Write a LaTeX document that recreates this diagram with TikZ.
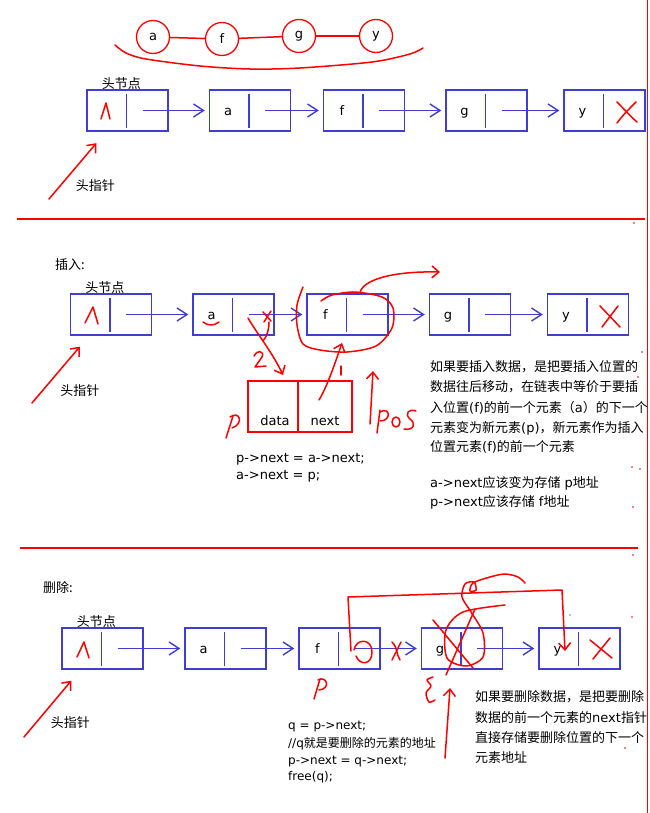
\documentclass[tikz,border=0pt]{standalone}
\usepackage{fontspec}
\setmainfont{DejaVu Sans}
\newfontfamily\cjk{Noto Sans CJK SC}
\usetikzlibrary{arrows.meta,positioning}
\definecolor{nodeblue}{RGB}{62,62,210}
\definecolor{inkred}{RGB}{255,0,0}

\begin{document}
\begin{tikzpicture}[
x=1pt,y=-1pt,
listnode/.style={draw=nodeblue,line width=1.4pt,minimum width=81pt,minimum height=41pt,inner sep=0pt},
divider/.style={draw=nodeblue,line width=1.4pt},
link/.style={draw=nodeblue,line width=1.4pt,-{Straight Barb[length=10pt,width=13pt]}},
ring/.style={circle,draw=inkred,line width=1.3pt,minimum size=33pt,inner sep=0pt,font=\fontsize{13}{15}\selectfont},
ink/.style={draw=inkred,line width=1.5pt,line cap=round,line join=round},
inkarrow/.style={ink,-{Straight Barb[length=7pt,width=12pt]}},
datalabel/.style={inner sep=0pt,font=\fontsize{13}{15}\selectfont,text height=9pt,text depth=3pt},
note/.style={anchor=west,inner sep=0pt,font=\fontsize{13}{15}\selectfont,text height=11pt,text depth=2pt},
code/.style={note,font=\fontsize{12}{14}\selectfont}
]
\path[use as bounding box,fill=white] (0,0) rectangle (649,813);

% ---- top: the list as a chain
\node[ring] (ca) at (153,37) {a};
\node[ring] (cf) at (222,39) {f};
\node[ring] (cg) at (299,36) {g};
\node[ring] (cy) at (376,36) {y};
\draw[ink] (ca) -- (cf);
\draw[ink] (cf) -- (cg);
\draw[ink] (cg) -- (cy);
\draw[ink] plot[smooth] coordinates {(115,45) (126,53) (146,59) (200,66) (250,69) (300,68) (372,62) (410,54) (423,48)};

\node[listnode] (h1) at (127.5,110.5) {};
\foreach \n/\x/\t in {a1/250/a,f1/364/f,g1/486.5/g,y1/604.5/y}
{
    \node[listnode] (\n) at (\x,110.5) {};
    \node[datalabel] (\n-data) at ([xshift=-22pt,yshift=-2pt]\n.center) {\t};
}
\foreach \n in {h1,a1,f1,g1,y1}
    \draw[divider] ([xshift=-1pt,yshift=-5pt]\n.north) -- ([xshift=-1pt,yshift=4pt]\n.south);
\foreach \s/\e in {h1/a1,a1/f1,f1/g1,g1/y1}
    \draw[link] ([xshift=15pt]\s.center) -- ([xshift=-4pt]\e.west);
\node[note,anchor=center] (h1-name) at ([xshift=35pt,yshift=5pt]h1.north west) {\cjk 头节点};
\coordinate (hp1) at (49,199);
\draw[inkarrow] (hp1) -- ([xshift=10pt,yshift=-11.5pt]h1.south west);
\node[note,anchor=center] (hp1-name) at ([xshift=9pt,yshift=-54pt]h1.south west) {\cjk 头指针};
\draw[ink] (101,119) -- (106,103) -- (110,119);
\draw[ink] (617,102) .. controls (625,110) and (630,116) .. (637,122);
\draw[ink] (636,102) .. controls (628,110) and (622,116) .. (617,123);

\draw[inkred,line width=1.4pt] (17,219) -- (645,219);

% ---- middle: insert
\node[note] (ins-title) at (55,265) {\cjk 插入:};
\node[listnode] (h2) at (111,314.5) {};
\foreach \n/\x/\t in {a2/233.5/a,f2/347.5/f,g2/470/g,y2/588/y}
{
    \node[listnode] (\n) at (\x,314.5) {};
    \node[datalabel] (\n-data) at ([xshift=-22pt,yshift=-2pt]\n.center) {\t};
}
\foreach \n in {h2,a2,f2,g2,y2}
    \draw[divider] ([xshift=-1pt,yshift=-5pt]\n.north) -- ([xshift=-1pt,yshift=4pt]\n.south);
\foreach \s/\e in {h2/a2,a2/f2,f2/g2,g2/y2}
    \draw[link] ([xshift=15pt]\s.center) -- ([xshift=-4pt]\e.west);
\node[note,anchor=center] (h2-name) at ([xshift=35pt,yshift=5pt]h2.north west) {\cjk 头节点};
\coordinate (hp2) at (32,403);
\draw[inkarrow] (hp2) -- ([xshift=10pt,yshift=-11pt]h2.south west);
\node[note,anchor=center] (hp2-name) at ([xshift=10pt,yshift=-55pt]h2.south west) {\cjk 头指针};
\draw[ink] (85,323) -- (93,307) -- (98,324);
\draw[ink] (600,306) -- (620,327);
\draw[ink] (618,306) -- (602,327);

% new element p
\node[listnode,draw=inkred,minimum width=104pt,minimum height=51pt] (p) at (300,406.5) {};
\draw[ink,line cap=butt] ([xshift=-2pt]p.north) -- ([xshift=-2pt]p.south);
\node[datalabel] (p-data) at ([xshift=-25pt,yshift=-15.5pt]p.center) {data};
\node[datalabel] (p-next) at ([xshift=25pt,yshift=-15.5pt]p.center) {next};
\node[note] (ins-code1) at (236,458) {p->next = a->next;};
\node[note] (ins-code2) at (236,475) {a->next = p;};

% marks on the insert
\draw[ink] (203,322) .. controls (208,326) and (214,326) .. (219,322);
\draw[ink] (263,312) -- (271,321);
\draw[ink] (271,311) -- (264,322);
\draw[ink] (269,322) .. controls (269,330) and (267,336) .. (263,341);
\draw[inkarrow] (248,318) .. controls (258,335) and (272,352) .. (283,375);
\draw[ink] (254,356) .. controls (256,350) and (265,350) .. (262,357) -- (255,367) -- (266,366);
\draw[ink] (233,416) -- (226,438);
\draw[ink] (230,417) .. controls (240,410) and (244,424) .. (232,428);
\draw[ink] plot[smooth] coordinates {(303,287) (297,305) (297,325) (303,344) (320,350) (347,352) (376,346) (392,328) (393,308) (382,297) (355,292) (332,295) (321,301)};
\draw[inkarrow] (360,293) .. controls (362,280) and (392,271) .. (440,272);
\draw[inkarrow] (319,400) .. controls (328,385) and (336,360) .. (342,343);
\draw[ink] (341,366) -- (341,375);
\draw[inkarrow] (370,424) -- (373,371);
\draw[ink] (380,410) -- (377,433);
\draw[ink] (380,412) .. controls (390,406) and (392,421) .. (380,421);
\draw[ink] (396,422) ellipse (4 and 5);
\draw[ink] (416,411) .. controls (409,408) and (404,414) .. (410,419) .. controls (416,423) and (414,431) .. (404,429);

\node[note] (ins-l1) at (430,367) {\cjk 如果要插入数据，是把要插入位置的};
\node[note] (ins-l2) at (430,387) {\cjk 数据往后移动，在链表中等价于要插};
\node[note] (ins-l3) at (430,408) {\cjk 入位置{\rmfamily(f)}的前一个元素（{\rmfamily a}）的下一个};
\node[note] (ins-l4) at (430,428) {\cjk 元素变为新元素{\rmfamily(p)}，新元素作为插入};
\node[note] (ins-l5) at (430,447) {\cjk 位置元素{\rmfamily(f)}的前一个元素};
\node[note] (ins-l6) at (430,483) {a->next{\cjk 应该变为存储} p{\cjk 地址}};
\node[note] (ins-l7) at (430,502) {p->next{\cjk 应该存储} f{\cjk 地址}};

\draw[inkred,line width=1.4pt] (20,548) -- (638,548);

% ---- bottom: delete
\node[note] (del-title) at (43,588) {\cjk 删除:};
\node[listnode] (h3) at (102.5,648.5) {};
\foreach \n/\x/\t in {a3/225.5/a,f3/339.5/f,g3/462/g,y3/579.5/y}
{
    \node[listnode] (\n) at (\x,648.5) {};
    \node[datalabel] (\n-data) at ([xshift=-22pt,yshift=-2pt]\n.center) {\t};
}
\foreach \n in {h3,a3,f3,g3,y3}
    \draw[divider] ([xshift=-1pt,yshift=-5pt]\n.north) -- ([xshift=-1pt,yshift=4pt]\n.south);
\foreach \s/\e in {h3/a3,a3/f3,f3/g3,g3/y3}
    \draw[link] ([xshift=15pt]\s.center) -- ([xshift=-4pt]\e.west);
\node[note,anchor=center] (h3-name) at ([xshift=35pt,yshift=5pt]h3.north west) {\cjk 头节点};
\coordinate (hp3) at (24,737);
\draw[inkarrow] (hp3) -- ([xshift=10pt,yshift=-11pt]h3.south west);
\node[note,anchor=center] (hp3-name) at ([xshift=9pt,yshift=-53pt]h3.south west) {\cjk 头指针};
\draw[ink] (77,657) -- (84,642) -- (89,658);
\draw[ink] (590,640) -- (612,658);
\draw[ink] (610,638) -- (593,659);

% marks on the delete
\draw[inkarrow] (351,651) -- (348,597) -- (562,590) -- (565,651);
\draw[ink] (354,650) .. controls (356,638) and (372,638) .. (372,652) .. controls (372,665) and (360,666) .. (356,656);
\draw[ink] (392,642) .. controls (398,648) and (396,654) .. (400,660);
\draw[ink] (401,642) -- (392,660);
\draw[ink] (433,620) -- (473,668);
\draw[ink] (475,609) -- (446,675);
\draw[ink] plot[smooth] coordinates {(505,605) (463,612) (446,630) (447,658) (466,666) (483,657) (483,633) (471,612) (462,597) (465,584) (474,582) (476,590) (470,591) (473,583) (490,577) (505,574) (518,577) (525,583)};
\draw[ink] plot[smooth] coordinates {(433,677) (427,680) (431,686) (426,693) (429,702) (435,700)};
\draw[inkarrow] (445,758) -- (450,688);
\draw[ink] (320,679) -- (314,699);
\draw[ink] (318,680) .. controls (327,675) and (331,689) .. (319,690);

\node[code] (del-code1) at (288,725) {q = p->next;};
\node[code] (del-code2) at (288,743) {//q{\cjk 就是要删除的元素的地址}};
\node[code] (del-code3) at (288,760) {p->next = q->next;};
\node[code] (del-code4) at (288,776) {free(q);};

\begin{scope}
\clip (0,0) rectangle (646,813);
\node[note] (del-l1) at (475,697) {\cjk 如果要删除数据，是把要删除};
\node[note] (del-l2) at (475,718) {\cjk 数据的前一个元素的{\rmfamily next}指针};
\node[note] (del-l3) at (475,738) {\cjk 直接存储要删除位置的下一个};
\node[note] (del-l4) at (475,758) {\cjk 元素地址};
\end{scope}

% edge and stray dots
\draw[inkred,line width=1.5pt] (647.5,0) -- (647.5,813);
\foreach \x/\y in {634/223,642/352,638/377,632/467,640/469,633/507,633/555,632/617,625/748}
    \fill[inkred] (\x,\y) circle (0.8);
\fill[black] (570,615) circle (0.7);
\end{tikzpicture}
\end{document}
